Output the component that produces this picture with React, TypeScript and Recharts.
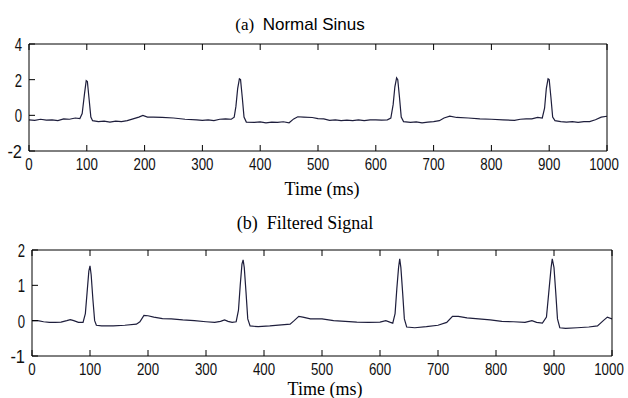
import { LineChart, Line, XAxis, YAxis } from 'recharts';

const xTicks = [0, 100, 200, 300, 400, 500, 600, 700, 800, 900, 1000];
const normalYTicks = [-2, 0, 2, 4];
const filteredYTicks = [-1, 0, 1, 2];

// (a) Normal Sinus
const normalTime = [
    0, 10, 20, 30, 40, 50, 60, 70, 80, 88, 92, 96, 99, 101, 104, 107, 110, 120, 130, 140,
    150, 160, 170, 180, 190, 197, 205, 215, 230, 250, 270, 290, 300, 310, 320, 330, 340, 350, 355, 358,
    361, 364, 366, 369, 372, 376, 390, 400, 410, 420, 430, 440, 450, 458, 465, 475, 490, 500, 510, 520,
    530, 540, 550, 560, 570, 580, 590, 600, 610, 620, 626, 630, 633, 636, 638, 641, 644, 648, 660, 670,
    680, 690, 700, 710, 718, 728, 740, 760, 780, 800, 820, 840, 850, 860, 870, 880, 888, 892, 895, 898,
    900, 903, 906, 910, 920, 930, 940, 950, 960, 970, 980, 990, 1000,
];
const normalValue = [
    -0.25, -0.28, -0.22, -0.27, -0.25, -0.3, -0.2, -0.22, -0.15, -0.18, 0.1, 1.2, 1.95, 1.9, 0.9, -0.1, -0.3, -0.35, -0.33, -0.38,
    -0.32, -0.35, -0.3, -0.2, -0.1, 0.0, -0.1, -0.1, -0.12, -0.15, -0.22, -0.25, -0.28, -0.25, -0.3, -0.22, -0.2, -0.22, -0.1, 0.5,
    1.5, 2.05, 2.0, 1.0, -0.1, -0.38, -0.4, -0.37, -0.42, -0.38, -0.4, -0.36, -0.42, -0.2, -0.08, -0.1, -0.12, -0.18, -0.2, -0.28,
    -0.25, -0.3, -0.27, -0.3, -0.25, -0.3, -0.25, -0.25, -0.27, -0.25, -0.15, 0.6, 1.6, 2.1, 2.0, 1.0, -0.1, -0.35, -0.4, -0.37,
    -0.42, -0.38, -0.35, -0.3, -0.15, -0.05, -0.12, -0.15, -0.2, -0.22, -0.25, -0.28, -0.22, -0.2, -0.2, -0.12, -0.15, 0.4, 1.5, 2.05,
    2.0, 1.0, -0.1, -0.3, -0.35, -0.38, -0.35, -0.4, -0.35, -0.35, -0.25, -0.1, -0.05,
];

// (b) Filtered Signal
const filteredTime = [
    0, 10, 20, 30, 40, 50, 60, 66, 72, 80, 88, 92, 95, 98, 100, 102, 105, 108, 111, 120,
    140, 160, 180, 186, 193, 200, 210, 225, 240, 260, 280, 300, 315, 325, 332, 338, 345, 352, 356, 359,
    362, 364, 366, 369, 372, 376, 390, 410, 430, 445, 452, 460, 467, 480, 500, 520, 540, 560, 580, 600,
    610, 618, 622, 626, 629, 632, 634, 636, 639, 642, 646, 660, 680, 700, 715, 725, 735, 750, 770, 790,
    810, 830, 850, 862, 870, 880, 887, 891, 895, 897, 900, 903, 906, 910, 920, 940, 960, 975, 985, 992,
    1000,
];
const filteredValue = [
    0.0, 0.0, -0.03, -0.05, -0.05, -0.04, 0.0, 0.03, 0.0, -0.05, -0.05, 0.2, 0.8, 1.4, 1.55, 1.3, 0.6, 0.0, -0.13, -0.15,
    -0.15, -0.13, -0.1, -0.03, 0.15, 0.14, 0.1, 0.06, 0.05, 0.02, 0.0, -0.03, -0.05, -0.02, 0.02, -0.02, -0.05, -0.03, 0.3, 1.0,
    1.6, 1.72, 1.5, 0.8, 0.05, -0.15, -0.17, -0.15, -0.12, -0.1, 0.0, 0.12, 0.1, 0.05, 0.05, 0.0, -0.02, -0.04, -0.05, -0.04,
    0.0, -0.05, -0.07, 0.2, 0.9, 1.5, 1.75, 1.5, 0.8, 0.05, -0.18, -0.2, -0.17, -0.13, -0.05, 0.12, 0.12, 0.08, 0.05, 0.02,
    -0.02, -0.03, -0.05, 0.0, -0.05, -0.07, 0.1, 0.8, 1.5, 1.75, 1.5, 0.8, 0.05, -0.2, -0.22, -0.2, -0.18, -0.15, 0.0, 0.1,
    0.05,
];

const normalData = normalTime.map((t, i) => ({ t, v: normalValue[i] }));
const filteredData = filteredTime.map((t, i) => ({ t, v: filteredValue[i] }));

const TICK_LEN = 6;
const tickFont = "'Liberation Sans', Arial, sans-serif";

function BottomTick(props: any) {
    const { x, y, payload } = props;
    const s = String(payload.value);
    // keep the last label inside the window, like the original
    const tx = payload.value === 1000 ? x - 3 : x;
    return (
        <g>
            <line x1={x} x2={x} y1={y} y2={y - TICK_LEN} stroke="#000" />
            <text x={tx} y={y + 19} textAnchor="middle" fontFamily={tickFont} fontSize={17} fill="#111"
                textLength={s.length * 7.4} lengthAdjust="spacingAndGlyphs">
                {s}
            </text>
        </g>
    );
}

function TopTick(props: any) {
    const { x, y } = props;
    return <line x1={x} x2={x} y1={y} y2={y + TICK_LEN} stroke="#000" />;
}

function LeftTick(props: any) {
    const { x, y, payload } = props;
    const s = String(payload.value);
    return (
        <g>
            <line x1={x} x2={x + TICK_LEN} y1={y} y2={y} stroke="#000" />
            <text x={x - 7} y={y + 7} textAnchor="end" fontFamily={tickFont} fontSize={18} fill="#111"
                textLength={s.length * 7.3} lengthAdjust="spacingAndGlyphs">
                {s}
            </text>
        </g>
    );
}

function RightTick(props: any) {
    const { x, y } = props;
    return <line x1={x} x2={x - TICK_LEN} y1={y} y2={y} stroke="#000" />;
}

interface PanelProps {
    data: { t: number; v: number }[];
    yDomain: [number, number];
    yTicks: number[];
    height: number;
    // plot box edges inside the panel
    left: number;
    right: number;
    top: number;
    bottom: number;
}

function Panel({ data, yDomain, yTicks, height, left, right, top, bottom }: PanelProps) {
    return (
        <LineChart width={628} height={height} data={data} margin={{ top: 0, left: 0, right: 0, bottom: 0 }}>
            <XAxis dataKey="t" type="number" domain={[0, 1000]} ticks={xTicks} height={height - bottom}
                tickSize={0} tickMargin={0} tick={<BottomTick />} axisLine={{ stroke: '#000' }}
                tickLine={false} interval={0} allowDataOverflow />
            <XAxis xAxisId="top" orientation="top" dataKey="t" type="number" domain={[0, 1000]} ticks={xTicks}
                height={top} tickSize={0} tickMargin={0} tick={<TopTick />} axisLine={{ stroke: '#000' }}
                tickLine={false} interval={0} />
            <YAxis type="number" domain={yDomain} ticks={yTicks} width={left} tickSize={0} tickMargin={0}
                tick={<LeftTick />} axisLine={{ stroke: '#000' }} tickLine={false} interval={0} allowDataOverflow />
            <YAxis yAxisId="right" orientation="right" type="number" domain={yDomain} ticks={yTicks} width={628 - right}
                tickSize={0} tickMargin={0} tick={<RightTick />} axisLine={{ stroke: '#000' }} tickLine={false}
                interval={0} />
            <Line type="linear" dataKey="v" stroke="#1e1e3c" strokeWidth={1.2} dot={false}
                isAnimationActive={false} />
        </LineChart>
    );
}

const serif = "'Liberation Serif', 'Times New Roman', serif";

export default function App() {
    return (
        <div style={{ position: 'absolute', left: 0, top: 0, width: 628, height: 398, background: '#fff', overflow: 'hidden' }}>
            <div style={{ position: 'absolute', top: 0, left: 0 }}>
                <Panel data={normalData} yDomain={[-2, 4]} yTicks={normalYTicks} height={200}
                    left={29} right={607} top={44} bottom={151} />
            </div>
            <div style={{ position: 'absolute', top: 200, left: 0 }}>
                <Panel data={filteredData} yDomain={[-1, 2]} yTicks={filteredYTicks} height={198}
                    left={32} right={612} top={50} bottom={156} />
            </div>
            <div style={{ position: 'absolute', left: 0, width: 600, top: 13, textAlign: 'center', fontSize: 17, lineHeight: '24px', whiteSpace: 'nowrap' }}>
                <span style={{ fontFamily: serif }}>(a)&nbsp;&nbsp;</span>
                <span style={{ fontFamily: tickFont }}>Normal Sinus</span>
            </div>
            <div style={{ position: 'absolute', left: 0, width: 644, top: 179, textAlign: 'center', fontFamily: serif, fontSize: 18, lineHeight: '20px' }}>
                Time (ms)
            </div>
            <div style={{ position: 'absolute', left: 0, width: 610, top: 211, textAlign: 'center', fontFamily: serif, fontSize: 18, lineHeight: '24px', whiteSpace: 'nowrap' }}>
                (b)&nbsp;&nbsp;Filtered Signal
            </div>
            <div style={{ position: 'absolute', left: 0, width: 650, top: 380, textAlign: 'center', fontFamily: serif, fontSize: 18, lineHeight: '18px' }}>
                Time (ms)
            </div>
        </div>
    );
}
